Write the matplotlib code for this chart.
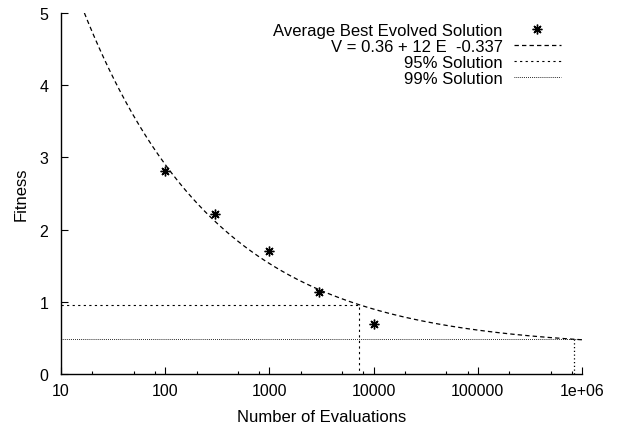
import numpy as np
import matplotlib.pyplot as plt
from matplotlib.ticker import FixedLocator, NullFormatter

plt.rcParams['font.family'] = ['Liberation Sans', 'DejaVu Sans']
plt.rcParams['font.size'] = 11.5

# measured averages
evals = [100, 300, 1000, 3000, 10000]
fitness = [2.81, 2.21, 1.71, 1.13, 0.69]

# fitted curve V = a + b * E^c
fit_a, fit_b, fit_c = 0.36, 12, -0.337

# 95% / 99% solution levels
sol95_evals, sol95_fit = 7250, 0.96
sol99_evals, sol99_fit = 840000, 0.48

xticks = [10, 100, 1000, 10000, 100000, 1000000]
xticklabels = ["10", "100", "1000", "10000", "100000", "1e+06"]

fig = plt.figure(figsize=(6.18, 4.27), dpi=100)
ax = fig.add_axes([0.0987, 0.1218, 0.843, 0.8454])

E = np.logspace(1, 6, 400)
V = fit_a + fit_b * E ** fit_c

ax.plot(evals, fitness, linestyle='none', marker=(8, 2, 0), markersize=7,
        markeredgewidth=1.0, color='black', label="Average Best Evolved Solution")
ax.plot(E, V, color='black', lw=0.9, dashes=(3.5, 2.5),
        label="V = 0.36 + 12 E  -0.337")
ax.plot([10, sol95_evals, sol95_evals], [sol95_fit, sol95_fit, 0], color='black',
        lw=0.8, dashes=(2, 3), label="95% Solution")
ax.plot([10, 1e6], [sol99_fit, sol99_fit], color='black', lw=0.7,
        dashes=(0.8, 1.2), label="99% Solution")
ax.plot([sol99_evals, sol99_evals], [sol99_fit, 0], color='black', lw=0.9,
        dashes=(1, 2))

ax.set_xscale('log')
ax.set_xlim(10, 1e6)
ax.set_ylim(0, 5)
ax.set_xticks(xticks)
ax.set_xticklabels(xticklabels)
minors = [m * 10 ** d for d in range(1, 6) for m in (2, 5, 8)]
ax.xaxis.set_minor_locator(FixedLocator(minors))
ax.xaxis.set_minor_formatter(NullFormatter())
ax.set_yticks([0, 1, 2, 3, 4, 5])

ax.tick_params(which='major', direction='in', length=5, width=0.8, labelsize=11.5)
ax.tick_params(axis='x', which='major', pad=6.5)
ax.tick_params(axis='y', which='major', pad=9)
ax.tick_params(which='minor', direction='in', length=2.5, width=0.8)
ax.spines['top'].set_visible(False)
ax.spines['right'].set_visible(False)
for s in ('left', 'bottom'):
    ax.spines[s].set_linewidth(1.0)

ax.set_xlabel("Number of Evaluations", fontsize=12, labelpad=8)
ax.set_ylabel("Fitness", fontsize=12, labelpad=8)

ax.legend(loc='upper right', bbox_to_anchor=(0.973, 0.99), frameon=False,
          markerfirst=False, handlelength=2.85, handletextpad=0.67,
          labelspacing=0.05, fontsize=12, borderaxespad=0)

fig.savefig("out.png", dpi=100)
